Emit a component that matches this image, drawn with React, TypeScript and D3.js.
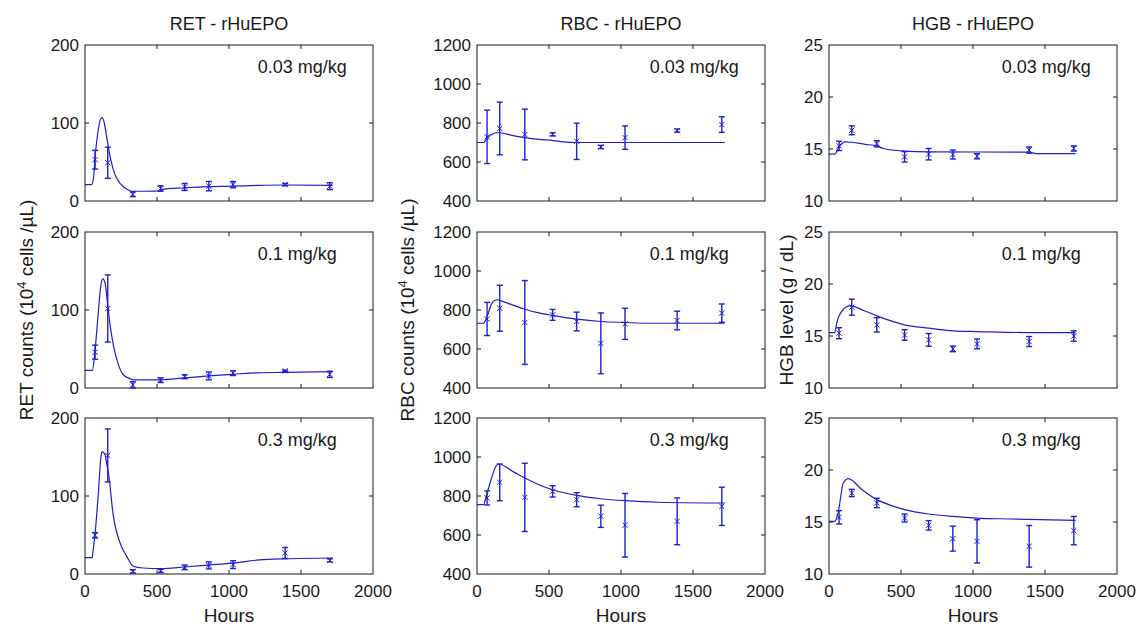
import React from 'react';
import * as d3 from 'd3';

// observation times (hours)
const obsHours = [70, 158, 332, 525, 692, 860, 1028, 1390, 1700];
const doseLabels = ['0.03 mg/kg', '0.1 mg/kg', '0.3 mg/kg'];
const xTicks = [0, 500, 1000, 1500, 2000];
const retTicks = [0, 100, 200];
const rbcTicks = [400, 600, 800, 1000, 1200];
const hgbTicks = [10, 15, 20, 25];

// observed means / error half widths, one row per dose
const retMean = [
	[53, 49, 8.6, 16, 18, 19, 21, 21, 19],
	[46, 102, 4, 10, 14.5, 15.5, 19, 22, 17.5],
	[49.6, 152, 3.4, 4, 8.5, 11, 12, 27, 17.5],
];
const retErr = [
	[12, 20, 3, 3.5, 4.5, 6, 4, 1.5, 4.5],
	[9, 43, 4, 3, 2.5, 5, 3, 1, 4],
	[3.5, 34, 2, 2, 3, 4.5, 5, 7, 2],
];
const rbcMean = [
	[729, 772, 741, 742, 706, 677, 725, 761, 792],
	[754, 809, 736, 775, 741, 629, 729, 746, 784],
	[790, 870, 793, 824, 781, 696, 650, 670, 747],
];
const rbcErr = [
	[137, 135, 130, 8, 93, 8, 60, 8, 40],
	[85, 118, 215, 28, 48, 156, 80, 48, 47],
	[36, 94, 175, 29, 36, 57, 163, 120, 98],
];
const hgbMean = [
	[15.3, 16.8, 15.5, 14.25, 14.5, 14.47, 14.3, 14.9, 15.05],
	[15.27, 17.77, 16.07, 15.1, 14.63, 13.76, 14.24, 14.47, 15.0],
	[15.45, 17.79, 16.83, 15.38, 14.68, 13.4, 13.14, 12.66, 14.17],
];
const hgbErr = [
	[0.45, 0.43, 0.3, 0.5, 0.55, 0.43, 0.25, 0.3, 0.25],
	[0.53, 0.77, 0.69, 0.51, 0.61, 0.27, 0.47, 0.48, 0.5],
	[0.64, 0.35, 0.45, 0.38, 0.45, 1.2, 2.08, 2.0, 1.36],
];

// model fits: [hours, value]
const retFit = [
	[[0, 21], [45, 21], [58, 28], [72, 60], [92, 91], [106, 104], [120, 107], [134, 100], [156, 76], [180, 52], [210, 33], [242, 23], [288, 15.5], [330, 12.5], [420, 12.5], [527, 13], [530, 15], [692, 17], [860, 18.5], [1028, 19], [1200, 20], [1390, 20.5], [1720, 20]],
	[[0, 22.6], [52, 22.6], [69, 47], [93, 98], [109, 130], [122, 140], [139, 135], [155, 111], [174, 81], [197, 55], [232, 30], [266, 17], [313, 12], [336, 10.5], [528, 10.5], [692, 13], [860, 15.5], [1028, 17.5], [1190, 19.5], [1390, 20], [1720, 21]],
	[[0, 21], [50, 21], [55, 28], [69, 50], [93, 104], [109, 147], [118, 157], [139, 153], [150, 142], [167, 124], [194, 78], [243, 40], [290, 22.6], [335, 10], [403, 7.7], [528, 6.8], [692, 9], [860, 11.5], [1028, 14], [1210, 18], [1390, 19.5], [1720, 20.5]],
];
const rbcFit = [
	[[0, 700], [45, 700], [70, 722], [100, 740], [130, 750], [158, 750], [250, 735], [332, 725], [430, 716], [528, 710], [600, 703], [692, 700], [1720, 700]],
	[[0, 732], [45, 732], [70, 766], [100, 830], [125, 850], [145, 852], [158, 849], [250, 825], [332, 804], [430, 785], [525, 772], [692, 753], [860, 741], [1028, 736], [1186, 732], [1720, 732]],
	[[0, 756], [45, 756], [70, 815], [100, 890], [130, 950], [151, 964], [250, 925], [332, 892], [430, 858], [525, 832], [692, 803], [860, 786], [1028, 776], [1254, 768], [1720, 764]],
];
const hgbFit = [
	[[0, 14.5], [40, 14.5], [70, 15.2], [110, 15.69], [158, 15.65], [250, 15.45], [332, 15.3], [376, 15.05], [525, 14.8], [692, 14.72], [1390, 14.7], [1440, 14.56], [1712, 14.56]],
	[[0, 15.33], [40, 15.33], [53, 16.2], [88, 17.36], [145, 17.9], [250, 17.4], [332, 16.94], [430, 16.45], [525, 16.07], [692, 15.75], [860, 15.49], [1028, 15.43], [1375, 15.33], [1712, 15.33]],
	[[0, 15.06], [40, 15.06], [65, 16.0], [99, 18.75], [134, 19.17], [230, 18.1], [332, 17.15], [430, 16.6], [525, 16.19], [692, 15.77], [860, 15.54], [1028, 15.38], [1251, 15.29], [1712, 15.16]],
];

const W = 1142;
const H = 627;
const colLeft = [85, 477, 829];
const rowTop = [45, 232, 418];
const plotW = 288;
const plotH = 156;
const blue = '#1f1fd0';
const ink = '#1a1a1a';
const font = '"Liberation Sans", Arial, sans-serif';

const Panel = ({ col, row, domain, ticks, mean, err, fit }) => {
	const x0 = colLeft[col];
	const y0 = rowTop[row];
	const x = d3.scaleLinear().domain([0, 2000]).range([0, plotW]);
	const y = d3.scaleLinear().domain(domain).range([plotH, 0]);
	const line = d3
		.line()
		.x(d => x(d[0]))
		.y(d => y(d[1]))
		.curve(d3.curveMonotoneX);
	const tl = 4;
	const cap = 3;
	const mk = 2.6;

	return (
		<g transform={`translate(${x0},${y0})`}>
			<rect width={plotW} height={plotH} fill="#fff" stroke={ink} strokeWidth={1} />
			{xTicks.slice(1, -1).map(t => (
				<g key={'xt' + t}>
					<line x1={x(t)} x2={x(t)} y1={plotH} y2={plotH - tl} stroke={ink} />
					<line x1={x(t)} x2={x(t)} y1={0} y2={tl} stroke={ink} />
				</g>
			))}
			{ticks.slice(1, -1).map(t => (
				<g key={'yt' + t}>
					<line x1={0} x2={tl} y1={y(t)} y2={y(t)} stroke={ink} />
					<line x1={plotW} x2={plotW - tl} y1={y(t)} y2={y(t)} stroke={ink} />
				</g>
			))}
			{ticks.map(t => (
				<text key={'yl' + t} x={-6} y={y(t)} dy="0.36em" textAnchor="end" fontSize={17} fill={ink}>
					{t}
				</text>
			))}
			{row === 2 &&
				xTicks.map(t => (
					<text key={'xl' + t} x={x(t)} y={plotH + 23} textAnchor="middle" fontSize={17} fill={ink}>
						{t}
					</text>
				))}
			<text x={plotW * 0.6} y={28} fontSize={18} fill={ink}>
				{doseLabels[row]}
			</text>
			<path d={line(fit)} fill="none" stroke={blue} strokeWidth={1.2} />
			{obsHours.map((t, i) => {
				const cx = x(t);
				const cy = y(mean[i]);
				const top = y(mean[i] + err[i]);
				const bot = y(mean[i] - err[i]);
				return (
					<g key={'p' + i} stroke={blue} strokeWidth={1.4} fill="none">
						<line x1={cx} x2={cx} y1={top} y2={bot} />
						<line x1={cx - cap} x2={cx + cap} y1={top} y2={top} />
						<line x1={cx - cap} x2={cx + cap} y1={bot} y2={bot} />
						<path d={`M${cx - mk},${cy - mk}L${cx + mk},${cy + mk}M${cx - mk},${cy + mk}L${cx + mk},${cy - mk}`} strokeWidth={1} />
					</g>
				);
			})}
		</g>
	);
};

const titles = ['RET - rHuEPO', 'RBC - rHuEPO', 'HGB - rHuEPO'];
const yLabelX = [33, 414, 793];

export default function App() {
	const midY = rowTop[1] + plotH / 2;
	return (
		<svg
			width={W}
			height={H}
			style={{ position: 'absolute', left: 0, top: 0, background: '#fff' }}
			fontFamily={font}
		>
			<rect width={W} height={H} fill="#fff" />
			{titles.map((t, c) => (
				<text key={t} x={colLeft[c] + plotW / 2} y={30} textAnchor="middle" fontSize={18} fill={ink}>
					{t}
				</text>
			))}
			{[0, 1, 2].map(c =>
				[0, 1, 2].map(r => {
					const spec =
						c === 0
							? { domain: [0, 200], ticks: retTicks, mean: retMean[r], err: retErr[r], fit: retFit[r] }
							: c === 1
							? { domain: [400, 1200], ticks: rbcTicks, mean: rbcMean[r], err: rbcErr[r], fit: rbcFit[r] }
							: { domain: [10, 25], ticks: hgbTicks, mean: hgbMean[r], err: hgbErr[r], fit: hgbFit[r] };
					return <Panel key={c + '-' + r} col={c} row={r} {...spec} />;
				})
			)}
			{[0, 1, 2].map(c => (
				<text key={'h' + c} x={colLeft[c] + plotW / 2} y={622} textAnchor="middle" fontSize={19} fill={ink}>
					Hours
				</text>
			))}
			<text transform={`translate(${yLabelX[0]},${midY}) rotate(-90)`} textAnchor="middle" fontSize={19} fill={ink}>
				RET counts (10<tspan dy={-7} fontSize={13}>4</tspan>
				<tspan dy={7}> cells /µL)</tspan>
			</text>
			<text transform={`translate(${yLabelX[1]},${midY}) rotate(-90)`} textAnchor="middle" fontSize={19} fill={ink}>
				RBC counts (10<tspan dy={-7} fontSize={13}>4</tspan>
				<tspan dy={7}> cells /µL)</tspan>
			</text>
			<text transform={`translate(${yLabelX[2]},${midY}) rotate(-90)`} textAnchor="middle" fontSize={19} fill={ink}>
				HGB level (g / dL)
			</text>
		</svg>
	);
}
